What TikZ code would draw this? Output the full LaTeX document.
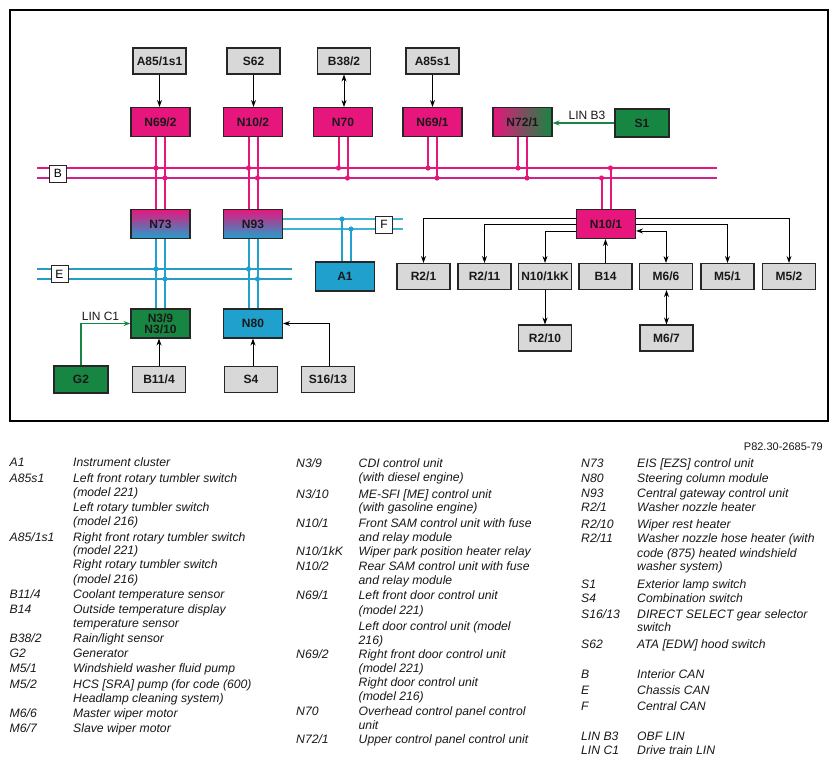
\documentclass[tikz,border=0pt]{standalone}
\usepackage{fontspec}
\setmainfont{Liberation Sans}
\usetikzlibrary{arrows.meta,calc}
\definecolor{pinkc}{RGB}{230,22,125}
\definecolor{busBtwo}{RGB}{205,35,140}
\definecolor{bluec}{RGB}{32,160,204}
\definecolor{busEc}{RGB}{38,158,196}
\definecolor{busFc}{RGB}{60,178,214}
\definecolor{greenc}{RGB}{22,134,66}
\definecolor{grayc}{RGB}{216,216,216}
\definecolor{edgec}{RGB}{38,38,38}
\definecolor{txtc}{RGB}{25,25,25}
\begin{document}
\begin{tikzpicture}[x=1pt,y=-1pt,
  box/.style={draw=edgec, line width=1.1pt, inner sep=0pt, text=txtc,
    font=\fontsize{12}{13}\selectfont\bfseries, align=center},
  ecu/.style={box, minimum width=59pt, minimum height=29pt},
  sens/.style={box, fill=grayc, minimum width=53pt, minimum height=26pt},
  pinkbox/.style={ecu, fill=pinkc},
  bluebox/.style={ecu, fill=bluec},
  greenbox/.style={ecu, fill=greenc},
  busbox/.style={draw=edgec, fill=white, line width=0.9pt, inner sep=0pt,
    minimum width=17pt, minimum height=17pt, font=\fontsize{12}{13}\selectfont},
  arr/.style={draw=black, line width=0.9pt, -{Stealth[length=7pt,width=5pt]}},
  dbl/.style={draw=black, line width=0.9pt, {Stealth[length=7pt,width=5pt]}-{Stealth[length=7pt,width=5pt]}},
  pk/.style={draw=pinkc, line width=2pt},
  cy/.style={draw=bluec, line width=2pt},
  dotp/.style={fill=pinkc},
  dotc/.style={fill=bluec},
  lin/.style={draw=greenc, line width=1.3pt, -{Stealth[length=7pt,width=5pt]}},
  lbl/.style={inner sep=0pt, font=\fontsize{12}{13}\selectfont, text=txtc},
  leg/.style={anchor=base west, inner sep=0pt, font=\fontsize{12.2}{14}\selectfont\itshape, text=txtc},
]
\useasboundingbox (0,0) rectangle (837,764);
\fill[white] (0,0) rectangle (837,764);
\draw[line width=1.2pt] (10,10) rectangle (828,421);

% ---------- top sensors ----------
\node[sens] (a851s1) at (159.5,61) {A85/1s1};
\node[sens] (s62)    at (253.5,61) {S62};
\node[sens] (b382)   at (344,61)   {B38/2};
\node[sens] (a85s1)  at (432.5,61) {A85s1};

% ---------- top ECUs ----------
\node[pinkbox] (n692) at (160.5,122) {N69/2};
\node[pinkbox] (n102) at (253,122)   {N10/2};
\node[pinkbox] (n70)  at (343,122)   {N70};
\node[pinkbox] (n691) at (432.5,122) {N69/1};
\node[ecu, left color=pinkc, right color=greenc] (n721) at (522.5,122) {N72/1};
\node[greenbox, minimum width=54pt, minimum height=28pt] (s1) at (642,123) {S1};

% ---------- middle ----------
\node[ecu, top color=pinkc, bottom color=bluec] (n73) at (160.5,224) {N73};
\node[ecu, top color=pinkc, bottom color=bluec] (n93) at (253,224)   {N93};
\node[bluebox] (a1) at (345,276.5) {A1};
\node[pinkbox] (n101) at (606,224) {N10/1};

% ---------- lower left ----------
\node[greenbox] (n3)  at (160.5,323.5) {N3/9\\[-2pt]N3/10};
\node[bluebox]  (n80) at (253,323.5)   {N80};
\node[sens, fill=greenc, minimum width=54pt, minimum height=27pt] (g2) at (81,379.5) {G2};
\node[sens] (b114)  at (159,379.5) {B11/4};
\node[sens] (s4)    at (251,379.5) {S4};
\node[sens] (s1613) at (328,379.5) {S16/13};

% ---------- right group ----------
\node[sens] (r21)   at (423.5,276.5) {R2/1};
\node[sens] (r211)  at (484.5,276.5) {R2/11};
\node[sens] (n101kk) at (545,276.5)  {N10/1kK};
\node[sens] (b14)   at (605.5,276.5) {B14};
\node[sens] (m66)   at (666,276.5)   {M6/6};
\node[sens] (m51)   at (727.5,276.5) {M5/1};
\node[sens] (m52)   at (789,276.5)   {M5/2};
\node[sens] (r210)  at (545,338)     {R2/10};
\node[sens] (m67)   at (666.5,338)   {M6/7};

% ---------- bus coordinates ----------
\coordinate (bBal) at (37,168);  \coordinate (bBar) at (717,168);
\coordinate (bBbl) at (37,178);  \coordinate (bBbr) at (717,178);
\coordinate (bEal) at (37,269);  \coordinate (bEar) at (292,269);
\coordinate (bEbl) at (37,279);  \coordinate (bEbr) at (292,279);
\coordinate (bFar) at (403,219);
\coordinate (bFbr) at (403,229);

% ---------- buses ----------
\draw[draw=pinkc, line width=2.2pt] (bBal) -- (bBar);
\draw[draw=busBtwo, line width=2.2pt] (bBbl) -- (bBbr);
\draw[draw=busEc, line width=2.2pt] (bEal) -- (bEar);
\draw[draw=busEc, line width=2.2pt] (bEbl) -- (bEbr);
\draw[draw=busFc, line width=2pt] ($(n93.east)+(0,-5)$) -- (bFar);
\draw[draw=busFc, line width=2pt] ($(n93.east)+(0,5)$) -- (bFbr);

% pink verticals through bus B
\foreach \n/\m in {n692/n73, n102/n93}{
  \draw[pk] ([xshift=-4.5pt]\n.south) -- ([xshift=-4.5pt]\m.north);
  \draw[pk] ([xshift=4.5pt]\n.south) -- ([xshift=4.5pt]\m.north);
  \fill[dotp] ([xshift=-4.5pt]\n.south |- bBal) circle (2.6pt);
  \fill[dotp] ([xshift=4.5pt]\n.south |- bBbl) circle (2.6pt);
}
\foreach \n in {n70, n691, n721}{
  \draw[pk] ([xshift=-4.5pt]\n.south) -- ([xshift=-4.5pt]\n.south |- bBal);
  \draw[pk] ([xshift=4.5pt]\n.south) -- ([xshift=4.5pt]\n.south |- bBbl);
  \fill[dotp] ([xshift=-4.5pt]\n.south |- bBal) circle (2.6pt);
  \fill[dotp] ([xshift=4.5pt]\n.south |- bBbl) circle (2.6pt);
}
\draw[pk] ([xshift=-4.5pt]n101.north) -- ([xshift=-4.5pt]n101.north |- bBbl);
\draw[pk] ([xshift=4.5pt]n101.north) -- ([xshift=4.5pt]n101.north |- bBal);
\fill[dotp] ([xshift=-4.5pt]n101.north |- bBbl) circle (2.6pt);
\fill[dotp] ([xshift=4.5pt]n101.north |- bBal) circle (2.6pt);

% cyan verticals through bus E
\foreach \n/\m in {n73/n3, n93/n80}{
  \draw[cy] ([xshift=-4.5pt]\n.south) -- ([xshift=-4.5pt]\m.north);
  \draw[cy] ([xshift=4.5pt]\n.south) -- ([xshift=4.5pt]\m.north);
  \fill[dotc] ([xshift=-4.5pt]\n.south |- bEal) circle (2.6pt);
  \fill[dotc] ([xshift=4.5pt]\n.south |- bEbl) circle (2.6pt);
}
% A1 to bus F
\draw[cy] ([xshift=-3pt]a1.north) -- ([xshift=-3pt]a1.north |- bFar);
\draw[cy] ([xshift=6pt]a1.north) -- ([xshift=6pt]a1.north |- bFbr);
\fill[dotc] ([xshift=-3pt]a1.north |- bFar) circle (2.6pt);
\fill[dotc] ([xshift=6pt]a1.north |- bFbr) circle (2.6pt);

% bus labels
\node[busbox] (labB) at (58,173.5) {B};
\node[busbox] (labE) at (59.5,274) {E};
\node[busbox] (labF) at (384,224.5) {F};

% ---------- arrows top ----------
\draw[arr] (a851s1.south) -- (a851s1.south |- n692.north);
\draw[arr] (s62.south) -- (s62.south |- n102.north);
\draw[dbl] (b382.south) -- (b382.south |- n70.north);
\draw[arr] (a85s1.south) -- (a85s1.south |- n691.north);
\draw[lin] (s1.west) -- (s1.west -| n721.east);
\node[lbl] (linb3) at (587,115) {LIN B3};

% ---------- arrows lower left ----------
\draw[lin] (g2.north) |- (n3.west);
\node[lbl] (linc1) at (100.5,316) {LIN C1};
\draw[arr] (b114.north) -- (b114.north |- n3.south);
\draw[arr] (n80.south |- s4.north) -- (n80.south);
\draw[arr] ([xshift=1pt]s1613.north) |- (n80.east);

% ---------- right group ----------
\draw[arr] ($(n101.north west)+(0,9)$)  -| (r21.north);
\draw[arr] ($(n101.north west)+(0,15)$) -| (r211.north);
\draw[arr] ($(n101.north west)+(0,22)$) -| (n101kk.north);
\draw[arr] (b14.north) -- (b14.north |- n101.south);
\draw[dbl] ($(n101.north east)+(0,22)$) -| (m66.north);
\draw[arr] ($(n101.north east)+(0,15)$) -| (m51.north);
\draw[arr] ($(n101.north east)+(0,9)$)  -| (m52.north);
\draw[arr] (n101kk.south) -- (r210.north);
\draw[dbl] (m66.south -| m67.north) -- (m67.north);

% ---------- legend ----------
\node[anchor=base east, inner sep=0pt, font=\fontsize{11}{13}\selectfont, text=txtc] (pno) at (823,450) {P82.30-2685-79};

\foreach \y/\t [count=\i] in {466/A1, 482/A85s1, 541/{A85/1s1}, 598/{B11/4}, 613/B14, 642/{B38/2}, 657/G2, 672/{M5/1}, 688/{M5/2}, 717/{M6/6}, 732/{M6/7}}
  \node[leg] (ka\i) at (9.5,\y) {\t};
\foreach \y/\t [count=\i] in {466/{Instrument cluster}, 482/{Left front rotary tumbler switch}, 496/{(model 221)}, 511/{Left rotary tumbler switch}, 525/{(model 216)}, 541/{Right front rotary tumbler switch}, 554/{(model 221)}, 568/{Right rotary tumbler switch}, 583/{(model 216)}, 598/{Coolant temperature sensor}, 613/{Outside temperature display}, 627/{temperature sensor}, 642/{Rain/light sensor}, 657/{Generator}, 672/{Windshield washer fluid pump}, 688/{HCS [SRA] pump (for code (600)}, 702/{Headlamp cleaning system)}, 717/{Master wiper motor}, 732/{Slave wiper motor}}
  \node[leg] (da\i) at (73,\y) {\t};

\foreach \y/\t [count=\i] in {467/{N3/9}, 498/{N3/10}, 527/{N10/1}, 555/{N10/1kK}, 570/{N10/2}, 599/{N69/1}, 658/{N69/2}, 715/N70, 743/{N72/1}}
  \node[leg] (kb\i) at (296,\y) {\t};
\foreach \y/\t [count=\i] in {467/{CDI control unit}, 481/{(with diesel engine)}, 498/{ME-SFI [ME] control unit}, 511/{(with gasoline engine)}, 527/{Front SAM control unit with fuse}, 541/{and relay module}, 555/{Wiper park position heater relay}, 570/{Rear SAM control unit with fuse}, 584/{and relay module}, 599/{Left front door control unit}, 614/{(model 221)}, 630/{Left door control unit (model}, 644/{216)}, 658/{Right front door control unit}, 672/{(model 221)}, 686/{Right door control unit}, 700/{(model 216)}, 715/{Overhead control panel control}, 729/{unit}, 743/{Upper control panel control unit}}
  \node[leg] (db\i) at (358.5,\y) {\t};

\foreach \y/\t [count=\i] in {467/N73, 482/N80, 497/N93, 511/{R2/1}, 528/{R2/10}, 542/{R2/11}, 588/S1, 602/S4, 618/{S16/13}, 648/S62, 678/B, 694/E, 710/F, 740/{LIN B3}, 754/{LIN C1}}
  \node[leg] (kc\i) at (581,\y) {\t};
\foreach \y/\t [count=\i] in {467/{EIS [EZS] control unit}, 482/{Steering column module}, 497/{Central gateway control unit}, 511/{Washer nozzle heater}, 528/{Wiper rest heater}, 542/{Washer nozzle hose heater (with}, 557/{code (875) heated windshield}, 570/{washer system)}, 588/{Exterior lamp switch}, 602/{Combination switch}, 618/{DIRECT SELECT gear selector}, 631/{switch}, 648/{ATA [EDW] hood switch}, 678/{Interior CAN}, 694/{Chassis CAN}, 710/{Central CAN}, 740/{OBF LIN}, 754/{Drive train LIN}}
  \node[leg] (dc\i) at (637,\y) {\t};
\end{tikzpicture}
\end{document}
